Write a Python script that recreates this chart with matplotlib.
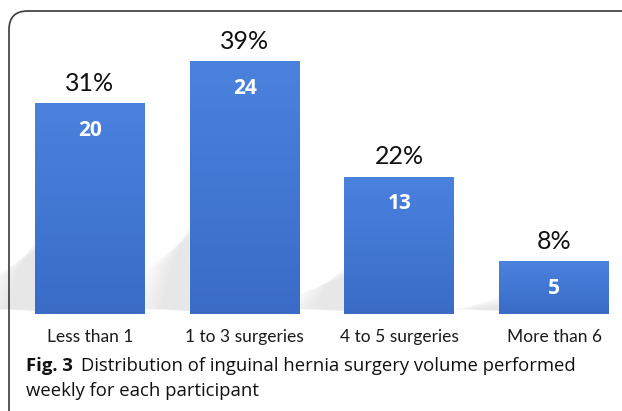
import matplotlib
matplotlib.use("Agg")
import matplotlib.pyplot as plt
import numpy as np
from matplotlib.patches import FancyBboxPatch, Polygon
from matplotlib.colors import LinearSegmentedColormap

categories = ["Less than 1", "1 to 3 surgeries", "4 to 5 surgeries", "More than 6"]
counts = [20, 24, 13, 5]
percents = ["31%", "39%", "22%", "8%"]
caption_bold = "Fig. 3"
caption_line1 = "Distribution of inguinal hernia surgery volume performed"
caption_line2 = "weekly for each participant"

W, H = 622, 411
fig = plt.figure(figsize=(W / 100, H / 100), dpi=100)
fig.patch.set_facecolor("white")

# border (rounded top-left corner)
border = FancyBboxPatch((9 / W, -0.1), 1.3, (H - 11) / H + 0.1,
                        boxstyle="round,pad=0,rounding_size=0.03",
                        transform=fig.transFigure, fill=False,
                        edgecolor="#3a3a3a", linewidth=1.2, mutation_aspect=W / H)
fig.patches.append(border)

# axes mapped to pixel geometry
unit = 10.54
y0 = 314
ax = fig.add_axes([0, 1 - y0 / H, 1, (y0 - 11) / H])
ax.set_ylim(0, (y0 - 11) / unit)
ax.axis("off")

x = np.arange(len(categories))
bars = ax.bar(x, counts, width=0.71, color="#3f78d6", edgecolor="none", zorder=3)

cmap = LinearSegmentedColormap.from_list("g", ["#3a6cc6", "#4a82de"])
grad = np.linspace(0, 1, 256).reshape(-1, 1)
for b in bars:
    x0b, yb = b.get_x(), b.get_height()
    im = ax.imshow(grad, cmap=cmap, aspect="auto", origin="lower",
                   extent=[x0b, x0b + b.get_width(), 0, yb], zorder=4)
    im.set_clip_path(b)
    # faint soft shadow behind, to the left
    for k in range(8):
        poly = Polygon([(x0b, 0.3), (x0b, yb * 0.35 - 0.15 * k),
                        (x0b - 0.12 - 0.025 * k, yb * 0.2 - 0.1 * k),
                        (x0b - 0.2 - 0.03 * k, 0.5)],
                       closed=True, facecolor="#808080", edgecolor="none",
                       alpha=0.018, zorder=2)
        ax.add_patch(poly)

ax.set_xlim((0 - 90) / 154.7, (W - 90) / 154.7)

for xi, c, p in zip(x, counts, percents):
    ax.annotate(p, (xi, c), xytext=(0, 20), textcoords="offset pixels",
                ha="center", va="center", fontsize=18, family="Lato", color="#111111", zorder=6)
    ax.annotate(str(c), (xi, c), xytext=(0, -27), textcoords="offset pixels",
                ha="center", va="center", fontsize=15, family="Open Sans", fontweight="bold",
                color="white", zorder=6)
    ax.annotate(categories[int(xi)], (xi, 0), xytext=(0, -23), textcoords="offset pixels",
                ha="center", va="center", fontsize=12.5, family="Lato", color="#1a1a1a", zorder=6)

# caption
t1 = fig.text(26 / W, 1 - 366 / H, caption_bold, fontsize=13.3, family="Open Sans",
              fontweight="bold", va="center", ha="left", color="#111111")
fig.canvas.draw()
bb = t1.get_window_extent()
fig.text((bb.x1 + 8) / W, 1 - 366 / H, caption_line1, fontsize=13.3, family="Open Sans",
         va="center", ha="left", color="#111111")
fig.text(26 / W, 1 - 391 / H, caption_line2, fontsize=13.3, family="Open Sans",
         va="center", ha="left", color="#111111")

fig.savefig("out.png", dpi=100, facecolor="white")
